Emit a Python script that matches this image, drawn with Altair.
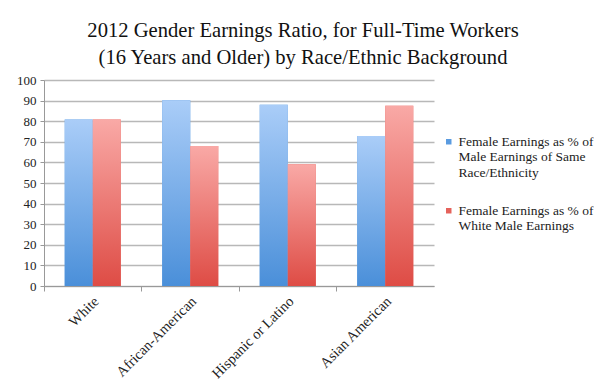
import altair as alt
import pandas as pd

categories = ["White", "African-American", "Hispanic or Latino", "Asian American"]
series = [
    "Female Earnings as % of Male Earnings of Same Race/Ethnicity",
    "Female Earnings as % of White Male Earnings",
]
same_race = [80.8, 90.2, 88.0, 72.8]
white_male = [80.8, 68.0, 59.1, 87.5]

legend_solid = ["#5a9be0", "#e5625b"]
blue_stops = ["#aacdf8", "#4a8fd9"]
red_stops = ["#f9a9a6", "#de4c45"]

rows = []
for c, a, b in zip(categories, same_race, white_male):
    rows.append({"race": c, "series": series[0], "value": a})
    rows.append({"race": c, "series": series[1], "value": b})
df = pd.DataFrame(rows)

FONT = "Liberation Serif, DejaVu Serif, serif"

x_enc = alt.X(
    "race:N",
    sort=categories,
    scale=alt.Scale(paddingInner=0, paddingOuter=0),
    axis=alt.Axis(
        title=None,
        labelAngle=-45,
        labelAlign="right",
        labelBaseline="middle",
        bandPosition=0,
        labelOffset=4,
        labelPadding=8,
        tickSize=5,
        tickColor="#999999",
        domainColor="#999999",
        labelFont=FONT,
        labelFontSize=14.5,
        labelColor="#222222",
        grid=False,
    ),
)
xo_enc = alt.XOffset(
    "series:N",
    sort=series,
    scale=alt.Scale(domain=series, paddingInner=0, paddingOuter=0.74),
)
y_enc = alt.Y(
    "value:Q",
    scale=alt.Scale(domain=[0, 100], nice=False),
    axis=alt.Axis(
        title=None,
        values=list(range(0, 101, 10)),
        tickSize=4,
        tickColor="#999999",
        domainColor="#999999",
        gridColor="#b8b8b8",
        gridWidth=1.5,
        labelFont=FONT,
        labelFontSize=13,
        labelColor="#222222",
        labelPadding=4,
    ),
)

legend_expr = (
    "datum.value == '" + series[0] + "' ? "
    "['Female Earnings as % of', 'Male Earnings of Same', 'Race/Ethnicity'] : "
    "['Female Earnings as % of', 'White Male Earnings']"
)

base = alt.Chart(df).encode(x=x_enc, xOffset=xo_enc, y=y_enc)

solid = base.mark_bar().encode(
    color=alt.Color(
        "series:N",
        sort=series,
        scale=alt.Scale(domain=series, range=legend_solid),
        legend=alt.Legend(
            title=None,
            orient="none",
            legendX=398,
            legendY=55,
            symbolType="square",
            symbolSize=30,
            labelFont=FONT,
            labelFontSize=13.5,
            labelColor="#222222",
            labelLimit=300,
            labelOffset=3,
            rowPadding=23,
            labelExpr=legend_expr,
        ),
    )
)


def grad(stops):
    return alt.Gradient(
        gradient="linear",
        stops=[
            alt.GradientStop(color=stops[0], offset=0),
            alt.GradientStop(color=stops[1], offset=1),
        ],
        x1=0, x2=0, y1=0, y2=1,
    )


blue = base.transform_filter(alt.datum.series == series[0]).mark_bar(color=grad(blue_stops))
red = base.transform_filter(alt.datum.series == series[1]).mark_bar(color=grad(red_stops))

chart = (
    alt.layer(solid, blue, red)
    .properties(
        width=390,
        height=206,
        autosize=alt.AutoSizeParams(type="none"),
        padding={"left": 36, "top": 72, "right": 165, "bottom": 96},
        title=alt.TitleParams(
            text=[
                "2012 Gender Earnings Ratio, for Full-Time Workers",
                "(16 Years and Older) by Race/Ethnic Background",
            ],
            font=FONT,
            fontSize=20.6,
            fontWeight="normal",
            color="#111111",
            lineHeight=27,
            anchor="middle",
            dx=64,
            offset=5,
        ),
    )
    .configure(background="white", font=FONT)
    .configure_view(stroke=None)
    .configure_axis(labelFont=FONT)
    .configure_legend(labelFont=FONT)
)

chart.save("out.html", embed_options={"renderer": "svg", "actions": False})
